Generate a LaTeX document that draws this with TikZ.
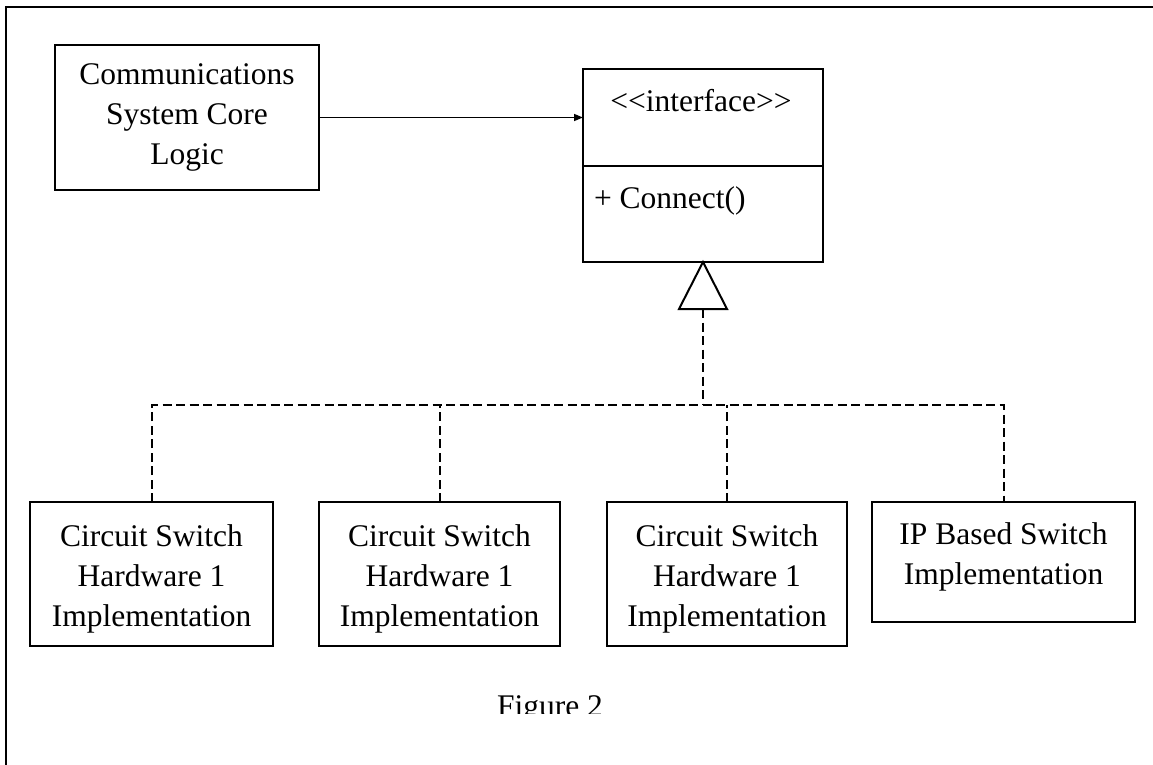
\documentclass[tikz,border=0pt]{standalone}
\usepackage{fontspec}
\setmainfont{Liberation Serif}
\usetikzlibrary{arrows.meta,calc}
\begin{document}
\begin{tikzpicture}[x=1pt,y=-1pt,
  line width=2pt,
  txt/.style={font=\fontsize{31.5}{40}\selectfont},
  box/.style={draw, line width=2pt, inner sep=0pt, outer sep=0pt, align=center, txt},
  impl/.style={box, minimum height=144pt},
  realize/.style={line width=2pt, dash pattern=on 9pt off 4.5pt},
  assoc/.style={line width=1.5pt, -{Triangle[length=9pt,width=7pt]}}
]
\useasboundingbox (0,0) rectangle (1153,765);
% frame
\draw (6,765) -- (6,7) -- (1153,7);

% top row
\node[box, minimum width=264pt, minimum height=144pt] (core) at (187,117.5) {Communications\\System Core\\Logic};
\node[box, minimum width=240pt, minimum height=97pt] (ifhead) at (703,117.5) {};
\node[txt, anchor=base, inner sep=0pt] (stereo) at (701,112) {{<}{<}interface{>}{>}};
\node[box, minimum width=240pt, minimum height=96pt, anchor=north] (ifbody) at (ifhead.south) {};
\node[txt, anchor=base west, inner sep=0pt] (op) at ($(ifbody.north west)+(10,42)$) {+ Connect()};

\draw[assoc] (core.east) -- (ifhead.west);

% realization triangle
\draw[line join=miter] (ifbody.south) -- ++(-24,47) -- ++(48,0) -- cycle;
\coordinate (tribase) at ($(ifbody.south)+(0,47)$);
\coordinate (bus) at (703,405);

% bottom row
\node[impl, minimum width=243pt] (b1) at (151.5,574) {\rule{0pt}{31.5pt}Circuit Switch\\Hardware 1\\Implementation};
\node[impl, minimum width=241pt] (b2) at (439.5,574) {\rule{0pt}{31.5pt}Circuit Switch\\Hardware 1\\Implementation};
\node[impl, minimum width=240pt] (b3) at (727,574) {\rule{0pt}{31.5pt}Circuit Switch\\Hardware 1\\Implementation};
\node[box, minimum width=263pt, minimum height=120pt, text depth=17pt] (b4) at (1003.5,562) {IP Based Switch\\Implementation};

% dashed connectors
\draw[realize] (tribase) -- (bus);
\draw[realize] (b1.north) -- (b1.north |- bus) -- (b4.north |- bus) -- (b4.north);
\draw[realize] (b2.north) -- (b2.north |- bus);
\draw[realize] (b3.north) -- (b3.north |- bus);

% caption (clipped at the bottom as in the reference)
\begin{scope}
\clip (0,0) rectangle (1153,713);
\node[txt, anchor=base, inner sep=0pt] (fig) at (550,716) {Figure 2};
\end{scope}
\end{tikzpicture}
\end{document}
